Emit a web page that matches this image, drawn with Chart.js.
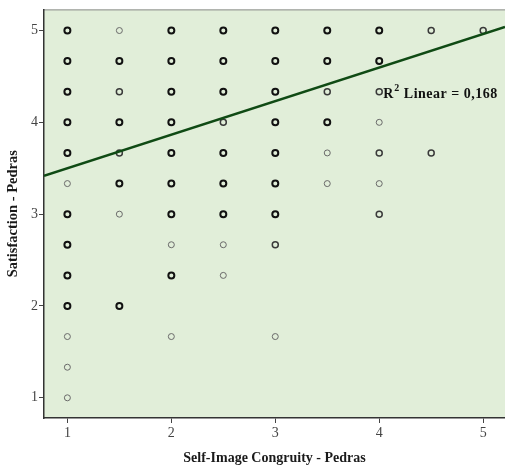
<!DOCTYPE html>
<html>
<head>
<meta charset="utf-8">
<script src="https://cdn.jsdelivr.net/npm/chart.js@4/dist/chart.umd.min.js"></script>
<style>
  html, body { margin: 0; padding: 0; background: #ffffff; }
  #wrap { width: 505px; height: 471px; position: relative; }
</style>
</head>
<body>
<div id="wrap"><canvas id="chart" width="505" height="471"></canvas></div>
<script>
// Survey scores: Self-Image Congruity (x) vs Satisfaction (y), Pedras.
// Points are grouped by how many respondents share the same score pair.
const manyResponses = [
  {x:1, y:5}, {x:1, y:4.667}, {x:1, y:4.333}, {x:1, y:4}, {x:1, y:3.667},
  {x:1, y:3}, {x:1, y:2.667}, {x:1, y:2.333}, {x:1, y:2},
  {x:1.5, y:4.667}, {x:1.5, y:4}, {x:1.5, y:3.333}, {x:1.5, y:2},
  {x:2, y:5}, {x:2, y:4.667}, {x:2, y:4.333}, {x:2, y:4}, {x:2, y:3.667},
  {x:2, y:3.333}, {x:2, y:3}, {x:2, y:2.333},
  {x:2.5, y:5}, {x:2.5, y:4.667}, {x:2.5, y:4.333}, {x:2.5, y:3.667},
  {x:2.5, y:3.333}, {x:2.5, y:3},
  {x:3, y:5}, {x:3, y:4.667}, {x:3, y:4.333}, {x:3, y:4}, {x:3, y:3.667},
  {x:3, y:3.333}, {x:3, y:3},
  {x:3.5, y:5}, {x:3.5, y:4.667}, {x:3.5, y:4},
  {x:4, y:5}, {x:4, y:4.667}
];
const fewResponses = [
  {x:1.5, y:4.333}, {x:1.5, y:3.667},
  {x:3, y:2.667}, {x:3.5, y:4.333},
  {x:4, y:3.667}, {x:4, y:3},
  {x:4.5, y:5}, {x:4.5, y:3.667}, {x:5, y:5},
  {x:2.5, y:4}, {x:4, y:4.333}
];
const singleResponses = [
  {x:1, y:3.333}, {x:1, y:1.667}, {x:1, y:1.333}, {x:1, y:1},
  {x:1.5, y:5}, {x:1.5, y:3},
  {x:2, y:2.667}, {x:2, y:1.667},
  {x:2.5, y:2.667}, {x:2.5, y:2.333},
  {x:3, y:1.667},
  {x:3.5, y:3.667}, {x:3.5, y:3.333},
  {x:4, y:4}, {x:4, y:3.333}
];
// Fitted linear trend, read at the two ends of the x range.
const fitLine = [{x:0.775, y:3.418}, {x:5.21, y:5.04}];
const fitLabelAt = {x:4, y:4.333};
const rSquaredText = "0,168";

const xTickValues = [1, 2, 3, 4, 5];
const yTickValues = [1, 2, 3, 4, 5];
const xTitle = "Self-Image Congruity - Pedras";
const yTitle = "Satisfaction - Pedras";

const serif = '"Liberation Serif", "Times New Roman", serif';

const plotFrame = {
  id: 'plotFrame',
  beforeDraw(chart) {
    const {ctx, chartArea: a} = chart;
    ctx.save();
    ctx.fillStyle = '#e1eed9';
    ctx.fillRect(a.left, a.top, a.right - a.left, a.bottom - a.top);
    ctx.strokeStyle = '#8a8a8a';
    ctx.lineWidth = 1;
    ctx.beginPath();
    ctx.moveTo(a.left, a.top + 0.5);
    ctx.lineTo(a.right, a.top + 0.5);
    ctx.stroke();
    ctx.restore();
  },
  afterDatasetsDraw(chart) {
    const {ctx, scales} = chart;
    const px = scales.x.getPixelForValue(fitLabelAt.x) + 4;
    const py = scales.y.getPixelForValue(fitLabelAt.y) + 6;
    ctx.save();
    ctx.fillStyle = '#111';
    ctx.textBaseline = 'alphabetic';
    ctx.textAlign = 'left';
    ctx.letterSpacing = '0.5px';
    ctx.font = 'bold 14px ' + serif;
    ctx.fillText('R', px, py);
    let w = ctx.measureText('R').width;
    ctx.font = 'bold 10px ' + serif;
    ctx.fillText('2', px + w + 0.5, py - 6.5);
    w += ctx.measureText('2').width + 0.5;
    ctx.font = 'bold 14px ' + serif;
    ctx.fillText(' Linear = ' + rSquaredText, px + w, py);
    ctx.restore();
  }
};

const pointSet = (data, color, width) => ({
  type: 'scatter',
  data,
  pointStyle: 'circle',
  pointRadius: 3,
  pointHoverRadius: 3,
  backgroundColor: 'rgba(0,0,0,0)',
  borderColor: color,
  pointBorderWidth: width,
  borderWidth: width
});

new Chart(document.getElementById('chart'), {
  type: 'scatter',
  data: {
    datasets: [
      {
        type: 'line',
        data: fitLine,
        borderColor: '#0f4a14',
        borderWidth: 2.5,
        pointRadius: 0,
        fill: false,
        order: 0
      },
      pointSet(singleResponses, '#6a6a6a', 1),
      pointSet(fewResponses, '#3a3a3a', 1.5),
      pointSet(manyResponses, '#111111', 2)
    ]
  },
  options: {
    responsive: false,
    animation: false,
    events: [],
    layout: { autoPadding: false, padding: { top: 8, right: 0, left: 0, bottom: 0 } },
    plugins: {
      legend: { display: false },
      tooltip: { enabled: false }
    },
    scales: {
      x: {
        type: 'linear',
        min: 0.775,
        max: 5.21,
        afterBuildTicks(scale) { scale.ticks = xTickValues.map(v => ({value: v})); },
        afterFit(scale) { scale.height = 53; },
        grid: { display: true, drawOnChartArea: false, drawTicks: true, tickLength: 5, color: '#444', lineWidth: 1 },
        border: { display: true, color: '#333', width: 1.5 },
        ticks: {
          color: '#444444',
          font: { family: serif, size: 14 },
          padding: 2,
          maxRotation: 0
        },
        title: {
          display: true,
          text: xTitle,
          color: '#1a1a1a',
          font: { family: serif, size: 14, weight: 'bold' },
          padding: { top: 0, bottom: 4 }
        }
      },
      y: {
        type: 'linear',
        min: 0.78,
        max: 5.23,
        afterBuildTicks(scale) { scale.ticks = yTickValues.map(v => ({value: v})); },
        afterFit(scale) { scale.width = 44; },
        grid: { display: true, drawOnChartArea: false, drawTicks: true, tickLength: 5, color: '#444', lineWidth: 1 },
        border: { display: true, color: '#333', width: 1.5 },
        ticks: {
          color: '#444444',
          font: { family: serif, size: 14 },
          padding: 1
        },
        title: {
          display: true,
          text: yTitle,
          color: '#1a1a1a',
          font: { family: serif, size: 14.5, weight: 'bold' },
          padding: { top: 5, bottom: 0 }
        }
      }
    }
  },
  plugins: [plotFrame]
});
</script>
</body>
</html>
